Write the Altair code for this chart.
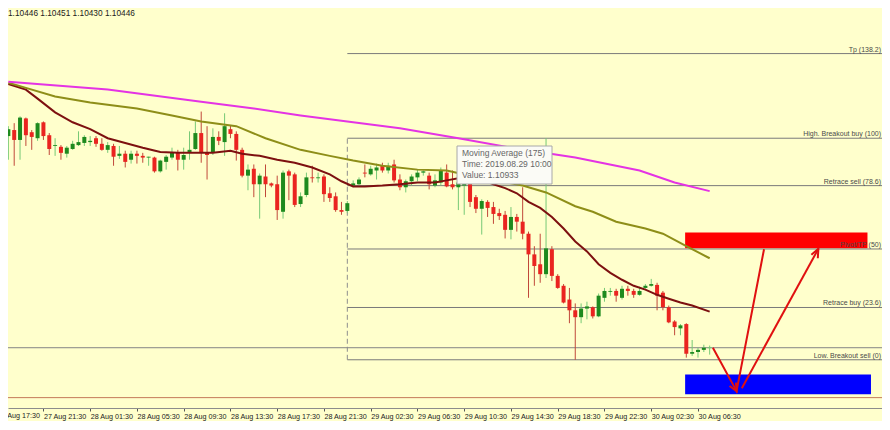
import json
import altair as alt
import pandas as pd

# ---------------- data (EURUSD, M30) ----------------
opens = [1.10938, 1.10952, 1.10929, 1.10979, 1.10947, 1.10933, 1.10970, 1.10940, 1.10915, 1.10913,
         1.10897, 1.10908, 1.10917, 1.10922, 1.10924, 1.10933, 1.10920, 1.10906, 1.10915, 1.10892,
         1.10897, 1.10883, 1.10897, 1.10892, 1.10888, 1.10888, 1.10856, 1.10878, 1.10888, 1.10901,
         1.10883, 1.10899, 1.10908, 1.10945, 1.10901, 1.10899, 1.10936, 1.10924, 1.10954, 1.10943,
         1.10906, 1.10846, 1.10862, 1.10826, 1.10844, 1.10828, 1.10826, 1.10762, 1.10856, 1.10849,
         1.10780, 1.10801, 1.10842, 1.10840, 1.10844, 1.10805, 1.10798, 1.10766, 1.10764, 1.10823,
         1.10826, 1.10853, 1.10849, 1.10858, 1.10869, 1.10858, 1.10872, 1.10837, 1.10819, 1.10833,
         1.10842, 1.10853, 1.10846, 1.10823, 1.10830, 1.10853, 1.10826, 1.10819, 1.10823, 1.10830,
         1.10796, 1.10769, 1.10785, 1.10773, 1.10759, 1.10755, 1.10720, 1.10750, 1.10739, 1.10711,
         1.10663, 1.10640, 1.10617, 1.10675, 1.10613, 1.10590, 1.10558, 1.10533, 1.10517, 1.10537,
         1.10540, 1.10519, 1.10562, 1.10576, 1.10578, 1.10562, 1.10583, 1.10578, 1.10569, 1.10585,
         1.10590, 1.10592, 1.10574, 1.10540, 1.10507, 1.10491, 1.10501, 1.10432, 1.10436, 1.10441,
         1.10446]
highs = [1.10961, 1.10968, 1.10984, 1.10981, 1.10952, 1.10970, 1.10972, 1.10945, 1.10933, 1.10917,
         1.10915, 1.10927, 1.10949, 1.10940, 1.10938, 1.10938, 1.10933, 1.10924, 1.10920, 1.10915,
         1.10904, 1.10904, 1.10904, 1.10899, 1.10890, 1.10890, 1.10883, 1.10894, 1.10911, 1.10906,
         1.10911, 1.10949, 1.10972, 1.10995, 1.10961, 1.10956, 1.10949, 1.10991, 1.10963, 1.10949,
         1.10911, 1.10872, 1.10872, 1.10851, 1.10872, 1.10830, 1.10846, 1.10858, 1.10860, 1.10853,
         1.10807, 1.10853, 1.10869, 1.10853, 1.10849, 1.10819, 1.10807, 1.10785, 1.10787, 1.10835,
         1.10842, 1.10872, 1.10869, 1.10874, 1.10876, 1.10876, 1.10883, 1.10849, 1.10837, 1.10849,
         1.10860, 1.10858, 1.10853, 1.10849, 1.10865, 1.10872, 1.10858, 1.10842, 1.10842, 1.10846,
         1.10801, 1.10791, 1.10789, 1.10785, 1.10769, 1.10764, 1.10773, 1.10757, 1.10819, 1.10716,
         1.10682, 1.10711, 1.10933, 1.10682, 1.10617, 1.10594, 1.10585, 1.10549, 1.10549, 1.10553,
         1.10542, 1.10572, 1.10585, 1.10585, 1.10583, 1.10590, 1.10590, 1.10583, 1.10588, 1.10594,
         1.10606, 1.10597, 1.10578, 1.10544, 1.10510, 1.10501, 1.10503, 1.10464, 1.10446, 1.10453,
         1.10451]
lows = [1.10883, 1.10869, 1.10883, 1.10915, 1.10906, 1.10927, 1.10929, 1.10894, 1.10892, 1.10883,
        1.10888, 1.10906, 1.10915, 1.10915, 1.10915, 1.10913, 1.10904, 1.10899, 1.10869, 1.10885,
        1.10865, 1.10874, 1.10874, 1.10876, 1.10869, 1.10853, 1.10853, 1.10860, 1.10883, 1.10858,
        1.10860, 1.10883, 1.10906, 1.10876, 1.10837, 1.10894, 1.10917, 1.10892, 1.10933, 1.10881,
        1.10842, 1.10812, 1.10796, 1.10746, 1.10796, 1.10819, 1.10743, 1.10746, 1.10789, 1.10773,
        1.10773, 1.10796, 1.10830, 1.10830, 1.10785, 1.10785, 1.10762, 1.10755, 1.10759, 1.10819,
        1.10823, 1.10842, 1.10846, 1.10837, 1.10853, 1.10851, 1.10830, 1.10812, 1.10807, 1.10823,
        1.10833, 1.10846, 1.10814, 1.10819, 1.10823, 1.10819, 1.10814, 1.10766, 1.10755, 1.10773,
        1.10759, 1.10709, 1.10750, 1.10734, 1.10743, 1.10700, 1.10698, 1.10716, 1.10698, 1.10562,
        1.10590, 1.10597, 1.10608, 1.10601, 1.10583, 1.10549, 1.10503, 1.10418, 1.10503, 1.10512,
        1.10514, 1.10517, 1.10553, 1.10567, 1.10553, 1.10558, 1.10567, 1.10562, 1.10567, 1.10583,
        1.10588, 1.10533, 1.10533, 1.10503, 1.10475, 1.10475, 1.10423, 1.10427, 1.10423, 1.10436,
        1.10430]
closes = [1.10954, 1.10929, 1.10981, 1.10940, 1.10936, 1.10968, 1.10938, 1.10908, 1.10917, 1.10899,
          1.10911, 1.10920, 1.10924, 1.10936, 1.10927, 1.10920, 1.10906, 1.10917, 1.10890, 1.10897,
          1.10878, 1.10897, 1.10892, 1.10888, 1.10890, 1.10856, 1.10881, 1.10890, 1.10899, 1.10883,
          1.10894, 1.10906, 1.10945, 1.10899, 1.10894, 1.10936, 1.10927, 1.10961, 1.10943, 1.10906,
          1.10846, 1.10860, 1.10826, 1.10846, 1.10826, 1.10823, 1.10766, 1.10853, 1.10846, 1.10778,
          1.10798, 1.10842, 1.10840, 1.10842, 1.10803, 1.10794, 1.10766, 1.10762, 1.10782, 1.10828,
          1.10837, 1.10851, 1.10862, 1.10865, 1.10858, 1.10869, 1.10835, 1.10819, 1.10833, 1.10844,
          1.10853, 1.10856, 1.10826, 1.10835, 1.10858, 1.10821, 1.10819, 1.10830, 1.10835, 1.10785,
          1.10769, 1.10787, 1.10771, 1.10757, 1.10752, 1.10720, 1.10750, 1.10739, 1.10711, 1.10663,
          1.10636, 1.10617, 1.10677, 1.10613, 1.10585, 1.10551, 1.10533, 1.10517, 1.10537, 1.10542,
          1.10519, 1.10567, 1.10578, 1.10578, 1.10567, 1.10583, 1.10578, 1.10569, 1.10578, 1.10590,
          1.10594, 1.10567, 1.10540, 1.10505, 1.10494, 1.10498, 1.10432, 1.10436, 1.10441, 1.10446,
          1.10446]

# moving averages (bar index, value)
ma_fast_idx = [0, 3, 5, 8, 11, 14, 17, 20, 23, 26, 29, 32, 35, 38, 40, 43, 46, 49, 52, 55,
               57, 59, 61, 64, 67, 70, 73, 75, 77, 79, 81, 83, 85, 87, 89, 91, 93, 95, 97, 99,
               101, 103, 105, 107, 109, 111, 113, 115, 117, 120]
ma_fast_val = [1.11059, 1.11046, 1.11025, 1.10993, 1.10970, 1.10954, 1.10933, 1.10922, 1.10911, 1.10901,
               1.10899, 1.10899, 1.10899, 1.10904, 1.10897, 1.10892, 1.10883, 1.10876, 1.10865, 1.10849,
               1.10833, 1.10821, 1.10821, 1.10823, 1.10826, 1.10830, 1.10830, 1.10835, 1.10840, 1.10842,
               1.10837, 1.10826, 1.10817, 1.10805, 1.10785, 1.10771, 1.10750, 1.10723, 1.10693, 1.10670,
               1.10640, 1.10620, 1.10604, 1.10590, 1.10581, 1.10569, 1.10560, 1.10551, 1.10544, 1.10530]
ma_mid_idx = [0, 3, 8, 14, 22, 28, 33, 39, 44, 50, 55, 59, 64, 70, 75, 79, 84, 88, 92, 97,
              100, 104, 109, 112, 116, 120]
ma_mid_val = [1.11062, 1.11050, 1.11030, 1.11016, 1.11002, 1.10986, 1.10972, 1.10961, 1.10933, 1.10906,
              1.10892, 1.10881, 1.10869, 1.10860, 1.10858, 1.10846, 1.10833, 1.10823, 1.10807, 1.10775,
              1.10762, 1.10739, 1.10723, 1.10711, 1.10682, 1.10654]
ma_slow_idx = [0, 17, 33, 42, 50, 58, 67, 77, 86, 97, 108, 114, 120]
ma_slow_val = [1.11064, 1.11046, 1.11018, 1.11002, 1.10986, 1.10972, 1.10956, 1.10933, 1.10911, 1.10888,
               1.10858, 1.10830, 1.10810]

# time axis labels (one every 8 bars)
time_labels = ["27 Aug 17:30", "27 Aug 21:30", "28 Aug 01:30", "28 Aug 05:30", "28 Aug 09:30",
               "28 Aug 13:30", "28 Aug 17:30", "28 Aug 21:30", "29 Aug 02:30", "29 Aug 06:30",
               "29 Aug 10:30", "29 Aug 14:30", "29 Aug 18:30", "29 Aug 22:30", "30 Aug 02:30",
               "30 Aug 06:30"]
label_bars = [-2, 6, 14, 22, 30, 38, 46, 54, 62, 70, 78, 86, 94, 102, 110, 118]

# Fibonacci object
fib_anchor = 58
fib_low = 1.10418
fib_high = 1.10933
fib_ratios = [0, 23.6, 50, 78.6, 100, 138.2]
fib_names = ["Low. Breakout sell (0)", "Retrace buy (23.6)", "Pivot/TP (50)",
             "Retrace sell (78.6)", "High. Breakout buy (100)", "Tp (138.2)"]

# other drawn objects
hline_price = 1.10330
zone_names = ["sell zone", "buy zone"]
zone_x1 = [115.8, 115.8]
zone_x2 = [147.0, 147.6]
zone_top = [1.10714, 1.10384]
zone_bottom = [1.10677, 1.10338]
path_group = ["a", "a", "a", "b", "b", "h1", "h1", "h1", "h2", "h2", "h2"]
path_idx = [120.55, 124.6, 129.3, 125.5, 138.6, 123.4, 124.6, 124.5, 137.4, 138.6, 138.5]
path_val = [1.10446, 1.10345, 1.10675, 1.10352, 1.10676, 1.10357, 1.10345, 1.10365, 1.10662, 1.10676, 1.10654]

tooltip_lines = ["Moving Average (175)", "Time: 2019.08.29 10:00", "Value: 1.10933"]

# ---------------- frames ----------------
candles = pd.DataFrame({"idx": list(range(len(opens))), "open": opens, "high": highs,
                        "low": lows, "close": closes})
candles["dir"] = ["up" if c >= o else "down" for o, c in zip(opens, closes)]

ma = pd.concat([
    pd.DataFrame({"idx": ma_fast_idx, "val": ma_fast_val, "ma": "fast"}),
    pd.DataFrame({"idx": ma_mid_idx, "val": ma_mid_val, "ma": "mid"}),
    pd.DataFrame({"idx": ma_slow_idx, "val": ma_slow_val, "ma": "slow"}),
])

fib = pd.DataFrame({"ratio": fib_ratios, "name": fib_names})
fib["price"] = fib_low + (fib_high - fib_low) * fib["ratio"] / 100.0
fib["x1"] = fib_anchor
fib["x2"] = 155

zones = pd.DataFrame({"name": zone_names, "x1": zone_x1, "x2": zone_x2,
                      "top": zone_top, "bottom": zone_bottom})
paths = pd.DataFrame({"grp": path_group, "idx": path_idx, "val": path_val,
                      "ord": list(range(len(path_idx)))})
hlines = pd.DataFrame({"price": [closes[-1], hline_price], "kind": ["bid", "line"]})

# ---------------- scales / encodings ----------------
FONT = "Liberation Sans"
W, H = 874, 400
xscale = alt.Scale(domain=[0.795, 148.63], nice=False, zero=False)
yscale = alt.Scale(domain=[1.103059, 1.112357], nice=False, zero=False)
label_expr = f"{json.dumps(time_labels)}[indexof({json.dumps(label_bars)}, datum.value)]"
xaxis = alt.Axis(values=label_bars[1:], labelExpr=label_expr, title=None, grid=False,
                 domainColor="#8c8c8c", domainWidth=1, tickColor="#555555", tickSize=3,
                 labelAlign="left", labelBaseline="top", labelFont=FONT, labelFontSize=7.2,
                 labelColor="#222222", labelPadding=1, labelOverlap=False, labelFlush=False,
                 labelBound=False)


def X(field):
    return alt.X(field, type="quantitative", scale=xscale, axis=xaxis)


def Y(field):
    return alt.Y(field, type="quantitative", scale=yscale, axis=None)


dir_color = alt.Scale(domain=["up", "down"], range=["#76c976", "#c0483a"])
body_color = alt.Scale(domain=["up", "down"], range=["#1e8a1e", "#ea2420"])

zones_layer = alt.Chart(zones).mark_rect(clip=True).encode(
    x=X("x1"), x2="x2", y=Y("top"), y2="bottom",
    color=alt.Color("name:N", scale=alt.Scale(domain=zone_names, range=["#ff0000", "#0000ff"]),
                    legend=None))

hline_layer = alt.Chart(hlines).mark_rule(strokeWidth=1).encode(
    y=Y("price"),
    color=alt.Color("kind:N", scale=alt.Scale(domain=["bid", "line"], range=["#858585", "#c47a58"]),
                    legend=None))

fib_layer = alt.Chart(fib).mark_rule(strokeWidth=1, color="#7a7a7a", clip=True).encode(
    x=X("x1"), x2="x2", y=Y("price"))

fib_v = alt.Chart(pd.DataFrame({"x": [fib_anchor], "lo": [fib_low], "hi": [fib_high]})).mark_rule(
    strokeWidth=1, color="#8e8e8e", strokeDash=[5, 3]).encode(x=X("x"), y=Y("lo"), y2="hi")

wicks = alt.Chart(candles).mark_rule(strokeWidth=1, clip=True).encode(
    x=X("idx"), y=Y("low"), y2="high",
    color=alt.Color("dir:N", scale=dir_color, legend=None))

bodies = alt.Chart(candles).mark_bar(size=4, clip=True).encode(
    x=X("idx"), y=Y("open"), y2="close",
    color=alt.Color("dir:N", scale=body_color, legend=None))

doji = alt.Chart(candles).transform_filter("abs(datum.open - datum.close) < 0.000015").transform_calculate(
    xa="datum.idx - 0.35", xb="datum.idx + 0.35").mark_rule(strokeWidth=1, color="#76c976").encode(
    x=X("xa:Q"), x2="xb:Q", y=Y("open"))

ma_layer = alt.Chart(ma).mark_line(strokeWidth=2, clip=True).encode(
    x=X("idx"), y=Y("val"),
    color=alt.Color("ma:N", scale=alt.Scale(domain=["fast", "mid", "slow"],
                                            range=["#7d1010", "#8e8e18", "#e433e4"]), legend=None))

path_layer = alt.Chart(paths).mark_line(strokeWidth=2, color="#e01010", clip=True).encode(
    x=X("idx"), y=Y("val"), detail="grp:N", order=alt.Order("ord:Q"))

fib_text = alt.Chart(fib).mark_text(align="right", baseline="bottom", dy=-1, font=FONT,
                                    fontSize=7, color="#4a4a4a").encode(
    x=alt.value(873), y=Y("price"), text="name:N")

header = alt.Chart(pd.DataFrame({"t": [" ".join(f"{v:.5f}" for v in
                                               (opens[-1], highs[-1], lows[-1], closes[-1]))]})
                   ).mark_text(align="left", baseline="top", font=FONT, fontSize=8.3,
                               color="#1a1a1a").encode(x=alt.value(0), y=alt.value(1), text="t:N")

first_label = alt.Chart(pd.DataFrame({"b": [label_bars[0]], "t": [time_labels[0]]})).mark_text(
    align="left", baseline="top", dx=1, font=FONT, fontSize=7.2, color="#222222").encode(
    x=X("b"), y=alt.value(H + 4), text="t:N")

tip_box = alt.Chart(pd.DataFrame({"a": [0]})).mark_rect(
    fill="#fbfbf6", stroke="#a8a8a8", strokeWidth=1).encode(
    x=alt.value(449), x2=alt.value(544), y=alt.value(138), y2=alt.value(176))

tip_text = alt.Chart(pd.DataFrame({"t": tooltip_lines, "k": [0, 1, 2]})).mark_text(
    align="left", baseline="middle", font=FONT, fontSize=8.5, color="#666666").encode(
    x=alt.value(454),
    y=alt.Y("k:Q", scale=alt.Scale(domain=[0, 2], range=[145, 167]), axis=None),
    text="t:N")

chart = alt.layer(
    zones_layer, hline_layer, fib_layer, fib_v, wicks, bodies, doji, ma_layer, path_layer,
    fib_text, header, first_label, tip_box, tip_text
).resolve_scale(y="independent", color="independent").properties(
    width=W, height=H,
    autosize=alt.AutoSizeParams(type="none"),
    padding={"left": 0, "top": 0, "right": 0, "bottom": 13},
    background="#ffffcc",
).configure_view(stroke=None)

chart.save("out.html", embed_options={"renderer": "svg", "actions": False})
